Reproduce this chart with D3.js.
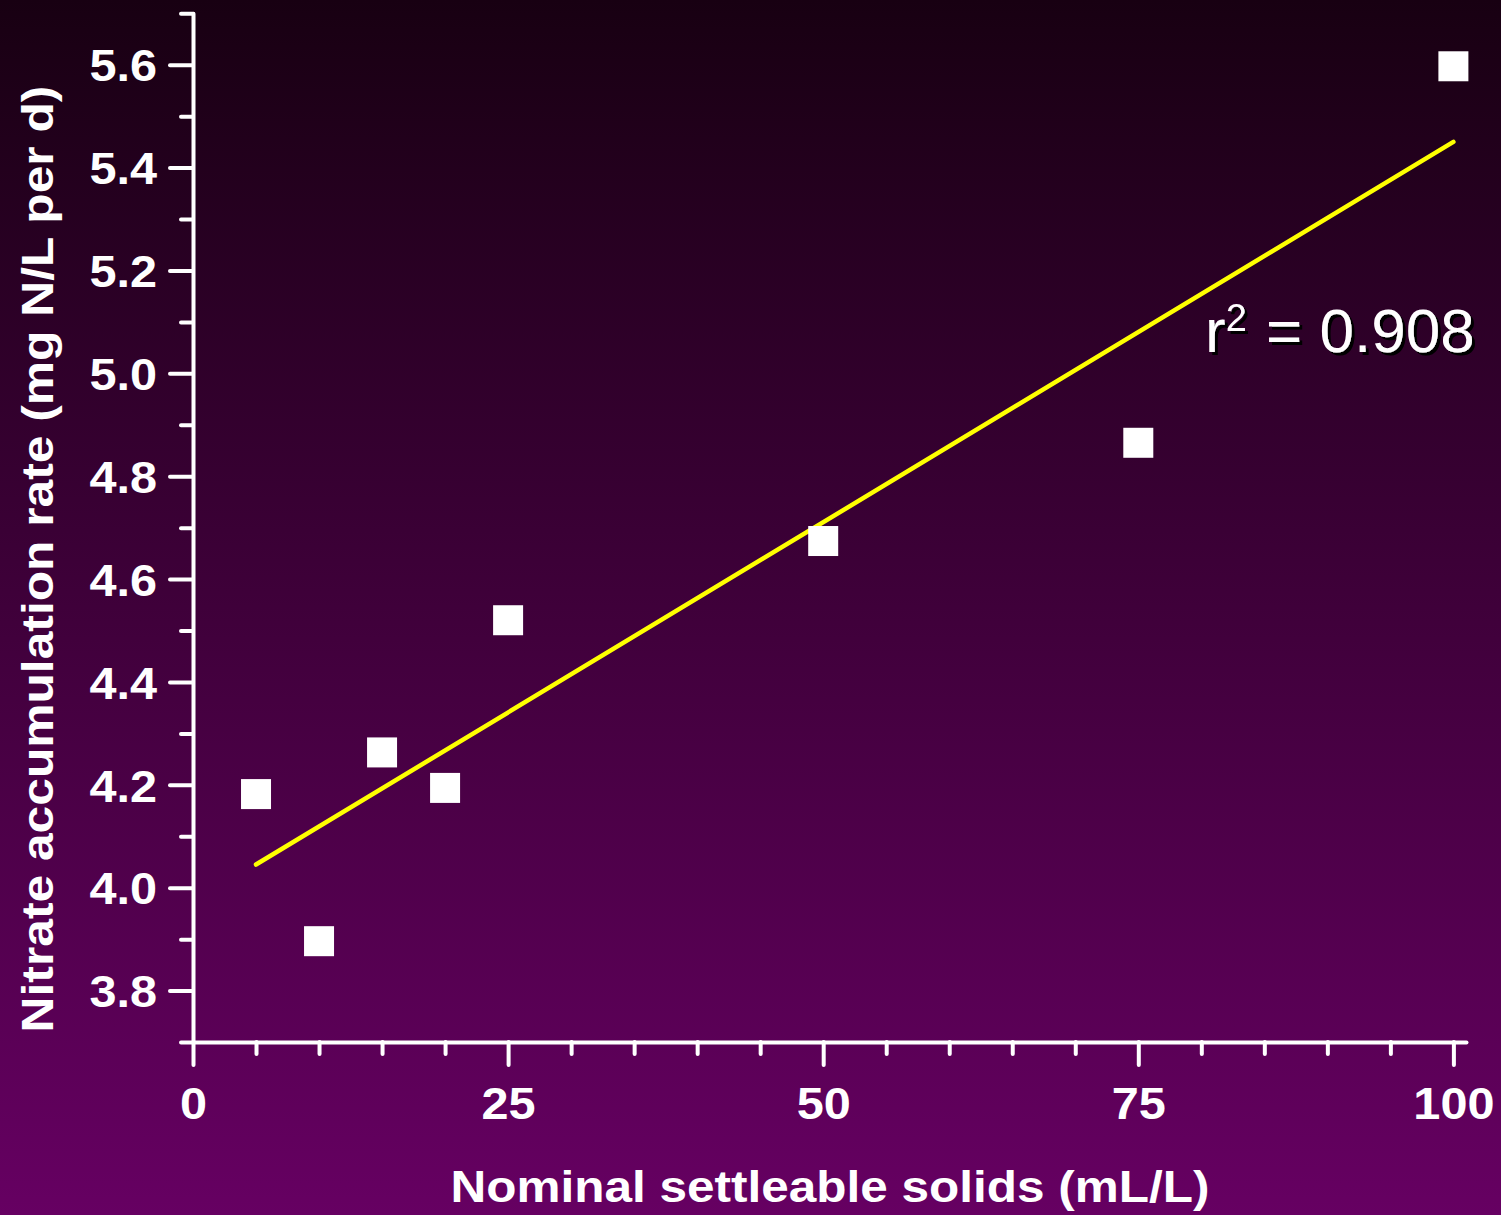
<!DOCTYPE html>
<html>
<head>
<meta charset="utf-8">
<script src="https://cdn.jsdelivr.net/npm/d3@7"></script>
<style>
  html, body { margin: 0; padding: 0; background: #3a0036; }
  svg { display: block; }
  text { font-family: 'Liberation Sans', Arial, sans-serif; fill: #fff; }
</style>
</head>
<body>
<div id="chart"></div>
<script>
const width = 1501;
const height = 1215;

// measured points (settleable solids vs nitrate accumulation)
const solids = [5, 10, 15, 20, 25, 50, 75, 100];
const nitrate = [4.182, 3.896, 4.263, 4.194, 4.52, 4.674, 4.865, 5.597];

// fitted line endpoints
const fitX = [5, 100];
const fitY = [4.045, 5.45];

const xMajor = [0, 25, 50, 75, 100];
const xMinor = [5, 10, 15, 20, 30, 35, 40, 45, 55, 60, 65, 70, 80, 85, 90, 95];
const yMajor = [3.8, 4.0, 4.2, 4.4, 4.6, 4.8, 5.0, 5.2, 5.4, 5.6];
const yMinor = [3.7, 3.9, 4.1, 4.3, 4.5, 4.7, 4.9, 5.1, 5.3, 5.5, 5.7];

const r2Label = '0.908';

const x = d3.scaleLinear().domain([0, 101]).range([193, 1466]);
const y = d3.scaleLinear().domain([3.7, 5.7]).range([1042, 13.3]);

const svg = d3
  .select('#chart')
  .append('svg')
  .attr('width', width)
  .attr('height', height);

// background gradient
const grad = svg
  .append('defs')
  .append('linearGradient')
  .attr('id', 'bg')
  .attr('x1', 0)
  .attr('y1', 0)
  .attr('x2', 0)
  .attr('y2', 1);
grad.append('stop').attr('offset', '0%').attr('stop-color', '#180012');
grad.append('stop').attr('offset', '100%').attr('stop-color', '#660062');

const shadow = svg.select('defs').append('filter').attr('id', 'shadow');
shadow
  .append('feDropShadow')
  .attr('dx', 3)
  .attr('dy', 3)
  .attr('stdDeviation', 0)
  .attr('flood-color', '#000');

svg.append('rect').attr('width', width).attr('height', height).attr('fill', 'url(#bg)');

// the original lettering is a bit wider than Liberation Sans
function stretch(sel, k) {
  sel.each(function () {
    const len = this.getComputedTextLength();
    d3.select(this).attr('textLength', len * k).attr('lengthAdjust', 'spacingAndGlyphs');
  });
}

// axes
const axisStyle = (g) => {
  g.select('.domain').attr('stroke', '#fff').attr('stroke-width', 4).attr('stroke-linecap', 'round');
  g.selectAll('.tick line').attr('stroke', '#fff').attr('stroke-width', 4).attr('stroke-linecap', 'round');
  g.selectAll('text').attr('fill', '#fff').attr('font-size', 45).attr('font-weight', 'bold')
    .attr('font-family', "'Liberation Sans', Arial, sans-serif");
};

svg
  .append('g')
  .attr('transform', `translate(0,${y(3.7)})`)
  .call(d3.axisBottom(x).tickValues(xMinor).tickSize(12).tickSizeOuter(0).tickFormat(''))
  .call(axisStyle);

svg
  .append('g')
  .attr('transform', `translate(0,${y(3.7)})`)
  .call(d3.axisBottom(x).tickValues(xMajor).tickSize(23).tickSizeOuter(0).tickPadding(22).tickFormat(d3.format('d')))
  .call(axisStyle)
  .call((g) => g.select('.domain').remove())
  .call((g) => stretch(g.selectAll('text'), 1.08));

svg
  .append('g')
  .attr('transform', `translate(${x(0)},0)`)
  .call(d3.axisLeft(y).tickValues(yMinor).tickSize(12).tickSizeOuter(0).tickFormat(''))
  .call(axisStyle);

svg
  .append('g')
  .attr('transform', `translate(${x(0)},0)`)
  .call(d3.axisLeft(y).tickValues(yMajor).tickSize(23).tickSizeOuter(0).tickPadding(13).tickFormat(d3.format('.1f')))
  .call(axisStyle)
  .call((g) => g.select('.domain').remove())
  .call((g) => g.selectAll('text').attr('dy', '0.36em'))
  .call((g) => stretch(g.selectAll('text'), 1.08));

// axis titles
svg
  .append('text')
  .attr('x', 830)
  .attr('y', 1202)
  .attr('text-anchor', 'middle')
  .attr('font-size', 45)
  .attr('font-weight', 'bold')
  .text('Nominal settleable solids (mL/L)')
  .call((t) => stretch(t, 1.1));

svg
  .append('text')
  .attr('transform', 'translate(53,559) rotate(-90)')
  .attr('text-anchor', 'middle')
  .attr('font-size', 45)
  .attr('font-weight', 'bold')
  .text('Nitrate accumulation rate (mg N/L per d)')
  .call((t) => stretch(t, 1.105));

// regression line
svg
  .append('path')
  .datum(d3.zip(fitX, fitY))
  .attr('d', d3.line().x((d) => x(d[0])).y((d) => y(d[1])))
  .attr('stroke', '#ffff00')
  .attr('stroke-width', 4.5)
  .attr('stroke-linecap', 'round')
  .attr('fill', 'none');

// points
const sq = 30;
svg
  .selectAll('.pt')
  .data(d3.zip(solids, nitrate))
  .enter()
  .append('rect')
  .classed('pt', true)
  .attr('x', (d) => x(d[0]) - sq / 2)
  .attr('y', (d) => y(d[1]) - sq / 2)
  .attr('width', sq)
  .attr('height', sq)
  .attr('fill', '#fff');

// r² label
const r2 = svg
  .append('text')
  .attr('x', 1205)
  .attr('y', 352)
  .attr('font-size', 62)
  .attr('filter', 'url(#shadow)');
r2.append('tspan').text('r');
r2.append('tspan').attr('font-size', 38).attr('dy', -21).text('2');
r2.append('tspan').attr('dy', 21).attr('dx', 2).text(` = ${r2Label}`);
</script>
</body>
</html>
